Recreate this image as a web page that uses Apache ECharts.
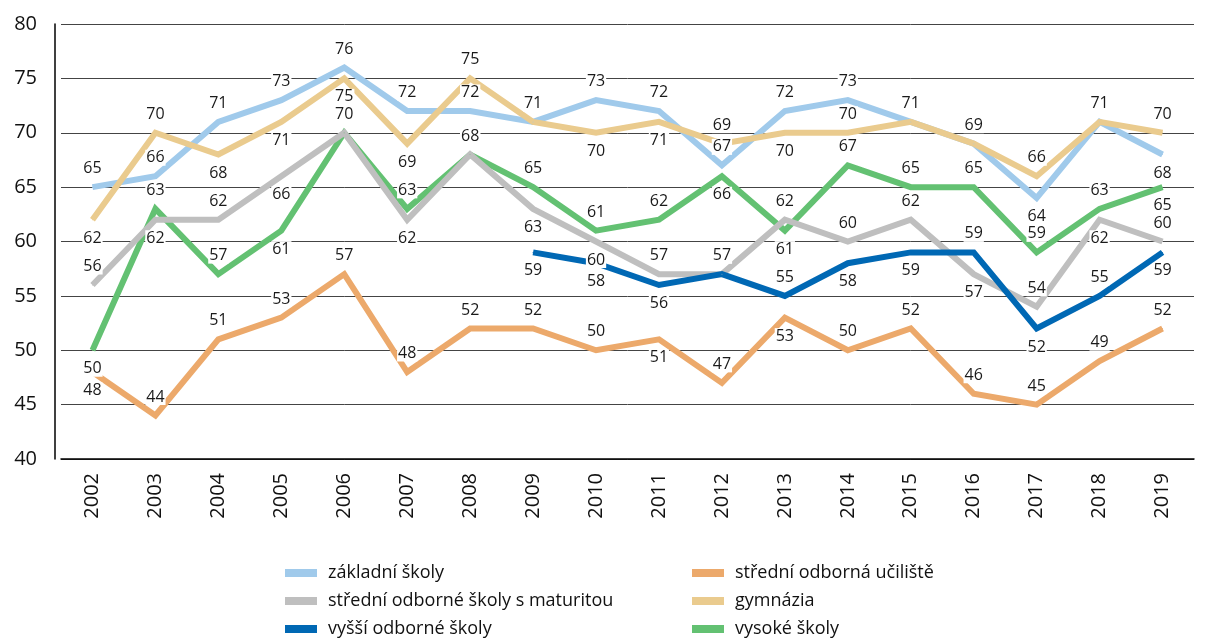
<!DOCTYPE html>
<html>
<head>
<meta charset="utf-8">
<script src="https://cdn.jsdelivr.net/npm/echarts@6/dist/echarts.min.js"></script>
<style>
  html, body { margin: 0; padding: 0; background: #fff; }
  #chart { width: 1207px; height: 639px; }
</style>
</head>
<body>
<div id="chart"></div>
<script>
var years = ['2002','2003','2004','2005','2006','2007','2008','2009','2010','2011','2012','2013','2014','2015','2016','2017','2018','2019'];

var zakladni  = [65,66,71,73,76,72,72,71,73,72,67,72,73,71,69,64,71,68];
var sou       = [48,44,51,53,57,48,52,52,50,51,47,53,50,52,46,45,49,52];
var sosMat    = [56,62,62,66,70,62,68,63,60,57,57,62,60,62,57,54,62,60];
var gymnazia  = [62,70,68,71,75,69,75,71,70,71,69,70,70,71,69,66,71,70];
var vos       = [null,null,null,null,null,null,null,59,58,56,57,55,58,59,59,52,55,59];
var vysoke    = [50,63,57,61,70,63,68,65,61,62,66,61,67,65,65,59,63,65];

// label side per point: T = above, B = below
var sideZakladni = 'TTTTTTTTTTTTTTTBTB';
var sideSou      = 'BTTTTTTTTBTBTTTTTT';
var sideSosMat   = 'TBTBTBTBBTTTTTBTBT';
var sideGymnazia = 'BTBBBBTTBBTBTTTTTT';
var sideVos      = 'TTTTTTTBBBTTBBTBTB';
var sideVysoke   = 'BTTBTTTTTTBBTTTTTB';

(function(){
  var myChart = echarts.init(document.getElementById('chart'));

  function build(values, sides) {
    var res = [];
    for (var i = 0; i < values.length; i++) {
      res.push({
        value: values[i],
        label: { position: sides.charAt(i) === 'T' ? 'top' : 'bottom' }
      });
    }
    return res;
  }

  function line(name, color, values, sides) {
    return {
      name: name,
      type: 'line',
      data: build(values, sides),
      symbol: 'circle',
      symbolSize: 1,
      showSymbol: true,
      lineStyle: { color: color, width: 6, join: 'miter' },
      itemStyle: { color: color },
      label: {
        show: true,
        distance: 10,
        color: '#1a1a1a',
        fontSize: 16,
        fontFamily: 'Open Sans',
        backgroundColor: '#fff',
        padding: [0, 1]
      },
      connectNulls: false
    };
  }

  var legendText = { color: '#111', fontSize: 18, fontFamily: 'Open Sans', lineHeight: 18, padding: [0, 0, 0, 6] };

  var option = {
    animation: false,
    grid: { left: 61, right: 13, top: 24, bottom: 180 },
    legend: [{
      orient: 'vertical', left: 285, top: 564, padding: 0,
      itemWidth: 32, itemHeight: 8, itemGap: 10, icon: 'rect',
      textStyle: legendText,
      data: ['základní školy', 'střední odborné školy s maturitou', 'vyšší odborné školy']
    }, {
      orient: 'vertical', left: 692, top: 564, padding: 0,
      itemWidth: 32, itemHeight: 8, itemGap: 10, icon: 'rect',
      textStyle: legendText,
      data: ['střední odborná učiliště', 'gymnázia', 'vysoké školy']
    }],
    xAxis: {
      type: 'category',
      data: years,
      axisLine: { lineStyle: { color: '#000', width: 1.5 } },
      axisTick: { show: false },
      axisLabel: { rotate: 90, color: '#111', fontSize: 20, fontFamily: 'Open Sans', margin: 14 }
    },
    yAxis: {
      type: 'value',
      min: 40, max: 80, interval: 5,
      offset: 6,
      axisLine: { show: true, lineStyle: { color: '#000', width: 1.5 } },
      axisTick: { show: false },
      axisLabel: { color: '#111', fontSize: 20, fontFamily: 'Open Sans', margin: 18 },
      splitLine: { lineStyle: { color: '#444', width: 1 } }
    },
    series: [
      line('vysoké školy', '#63C172', vysoke, sideVysoke),
      line('střední odborná učiliště', '#ECA96B', sou, sideSou),
      line('základní školy', '#A0CAEB', zakladni, sideZakladni),
      line('gymnázia', '#EACB8E', gymnazia, sideGymnazia),
      line('střední odborné školy s maturitou', '#BFBFBF', sosMat, sideSosMat),
      line('vyšší odborné školy', '#0068B4', vos, sideVos)
    ]
  };
  myChart.setOption(option);
})();
</script>
</body>
</html>
